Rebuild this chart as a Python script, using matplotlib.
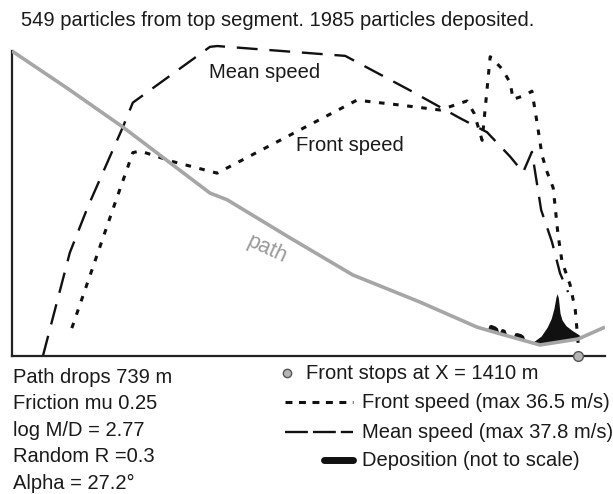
import matplotlib
matplotlib.use("Agg")
import matplotlib.pyplot as plt
import numpy as np

plt.rcParams['font.family'] = ['Liberation Sans', 'DejaVu Sans']
plt.rcParams['lines.scale_dashes'] = False

# --- data (x in metres along the horizontal) ---
path_x = [0, 137, 276, 493, 536, 693, 849, 1016, 1158, 1216, 1315, 1410, 1477]
path_z = [739, 646, 548, 382, 365, 269, 176, 108, 45, 28, 0, 15, 45]

front_x = [149, 257, 301, 319, 401, 511, 859, 967, 1066, 1133, 1151, 1171, 1191,
           1221, 1241, 1248, 1278, 1295, 1308, 1320, 1333, 1348, 1360, 1370,
           1390, 1403, 1410]
front_v = [3.4, 18.7, 24.8, 25.0, 23.7, 22.3, 31.2, 30.6, 30.0, 31.1, 29.6, 26.3,
           36.5, 35.0, 33.3, 31.3, 31.8, 32.3, 28.4, 24.5, 22.4, 20.5, 14.8, 11.5,
           8.7, 5.6, 1.6]

mean_x = [77, 144, 189, 276, 301, 493, 511, 830, 991, 1116, 1183, 1241, 1273,
          1295, 1318, 1345, 1365, 1385]
mean_v = [0, 12.6, 18.2, 27.9, 30.9, 37.7, 37.8, 36.6, 32.4, 29.0, 27.3, 24.3,
          22.4, 24.9, 17.8, 13.9, 10.1, 7.8]

dep_x = [1184, 1188, 1193, 1203, 1209, 1213, 1218, 1222, 1228, 1233, 1248, 1252,
         1257, 1268, 1274, 1278, 1295, 1305, 1318, 1333, 1343, 1350, 1355, 1358,
         1361, 1365, 1370, 1380, 1395, 1410, 1420]
dep_h = [0, 14, 17, 16, 13, 0, 13, 15, 14, 0, 0, 12, 15, 15, 12, 0, 0, 10, 22, 42,
         62, 87, 115, 122, 110, 72, 54, 38, 24, 12, 0]

stop_x = 1410

info_lines = ["Path drops 739 m", "Friction mu 0.25", "log M/D = 2.77",
              "Random R =0.3", "Alpha = 27.2\u00b0"]
title = "549 particles from top segment. 1985 particles deposited."

W, H = 613, 494
fig = plt.figure(figsize=(W / 100, H / 100), dpi=100)

# main axes: speeds
ax = fig.add_axes([12 / W, (H - 356) / H, (605 - 12) / W, (356 - 40) / H])
ax.set_xlim(0, 1477)
ax.set_ylim(0, (356 - 40) / 8.2)
ax2 = ax.twinx()
ax2.set_ylim(-27.7, 766.8)

for a in (ax, ax2):
    a.set_xticks([])
    a.set_yticks([])
    for s in a.spines.values():
        s.set_visible(False)
ax.spines['bottom'].set_visible(True)
ax.spines['bottom'].set_linewidth(1.6)
ax.spines['bottom'].set_color('#222222')
ax2.spines['left'].set_visible(True)
ax2.spines['left'].set_linewidth(1.6)
ax2.spines['left'].set_color('#222222')
ax2.spines['left'].set_bounds(-27.7, path_z[0])

# deposition on top of the path
base = np.interp(dep_x, path_x, path_z)
ax2.fill_between(dep_x, base, base + np.array(dep_h), color='#111111', lw=0, zorder=2)
ax2.plot(path_x, path_z, color='#a6a6a6', lw=2.6, zorder=3, solid_capstyle='butt')

ax.plot(front_x, front_v, color='#111111', lw=2.2, dashes=(4, 6.2))
ax.plot(mean_x, mean_v, color='#111111', lw=1.7, dashes=(15, 8.5))
ax2.plot([stop_x], [-27.7], 'o', ms=7, mfc='#b4b4b4', mec='#555555', mew=1,
         clip_on=False, zorder=5)

# overlay in pixel units for texts and key
lg = fig.add_axes([0, 0, 1, 1])
lg.set_xlim(0, W)
lg.set_ylim(H, 0)
lg.axis('off')
lg.patch.set_alpha(0)

tc = '#1a1a1a'
fs = 14.5
lg.text(21, 20, title, fontsize=fs, color=tc, ha='left', va='center')
lg.text(209, 72, "Mean speed", fontsize=fs, color=tc, ha='left', va='center')
lg.text(296, 145, "Front speed", fontsize=fs, color=tc, ha='left', va='center')
lg.text(267, 249, "path", fontsize=15.5, color='#999999', ha='center', va='center',
        rotation=-25)

for i, t in enumerate(info_lines):
    lg.text(13, 377 + i * 26.5, t, fontsize=fs, color=tc, ha='left', va='center')

lg.plot([287], [373], 'o', ms=6, mfc='#b4b4b4', mec='#555555', mew=1)
lg.text(306, 373, "Front stops at X = %d m" % stop_x, fontsize=fs, color=tc,
        ha='left', va='center')
lg.plot([285, 353], [402, 402], color='#111111', lw=2.2, dashes=(5, 4.7))
lg.text(362, 402, "Front speed (max %.1f m/s)" % max(front_v), fontsize=fs, color=tc,
        ha='left', va='center')
lg.plot([285, 353], [432, 432], color='#111111', lw=1.7, dashes=(16.5, 3.6))
lg.text(362, 432, "Mean speed (max %.1f m/s)" % max(mean_v), fontsize=fs, color=tc,
        ha='left', va='center')
lg.plot([324, 353], [460, 460], color='#111111', lw=5, solid_capstyle='round')
lg.text(362, 460, "Deposition (not to scale)", fontsize=fs, color=tc,
        ha='left', va='center')

fig.savefig("out.png", dpi=100)
